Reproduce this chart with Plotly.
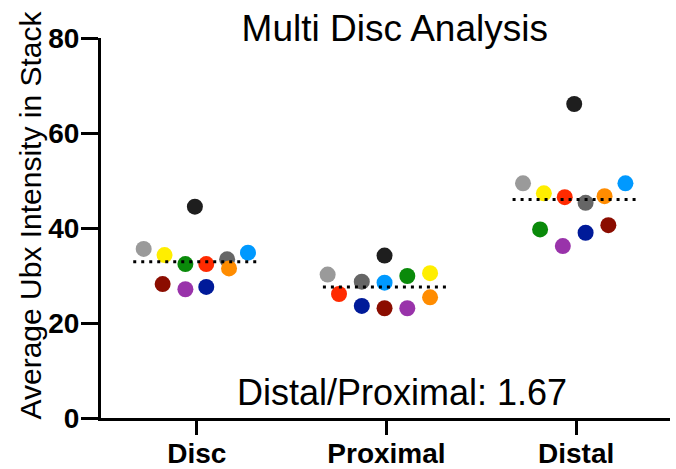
import plotly.graph_objects as go

groups = ["Disc", "Proximal", "Distal"]
disc_colors = ["#9a9a9a", "#1e1e1e", "#ffee00", "#0a8a0a", "#ff2a00", "#666666",
               "#ff8c00", "#0099ff", "#8b0d00", "#9933aa", "#001a99"]

disc_vals = [35.6, 44.5, 34.3, 32.4, 32.4, 33.4, 31.5, 34.8, 28.2, 27.1, 27.6]
proximal_vals = [30.2, 34.2, 30.5, 29.9, 26.1, 28.7, 25.4, 28.5, 23.1, 23.1, 23.6]
distal_vals = [49.4, 66.1, 47.3, 39.7, 46.5, 45.3, 46.7, 49.4, 40.6, 36.2, 39.0]

# horizontal scatter jitter (category units)
disc_jit = [-0.28, -0.01, -0.17, -0.06, 0.05, 0.16, 0.17, 0.27, -0.18, -0.06, 0.05]
proximal_jit = [-0.31, -0.01, 0.23, 0.11, -0.25, -0.13, 0.23, -0.01, -0.01, 0.11, -0.13]
distal_jit = [-0.28, -0.01, -0.17, -0.19, -0.06, 0.05, 0.15, 0.26, 0.17, -0.07, 0.05]

y_ticks = [0, 20, 40, 60, 80]

vals = [disc_vals, proximal_vals, distal_vals]
jits = [disc_jit, proximal_jit, distal_jit]

fig = go.Figure()
for i, col in enumerate(disc_colors):
    xs = [g + jits[g][i] for g in range(3)]
    ys = [vals[g][i] for g in range(3)]
    fig.add_trace(go.Scatter(x=xs, y=ys, mode="markers",
                             marker=dict(size=16, color=col, line=dict(width=0)),
                             showlegend=False, hoverinfo="y"))

means = [sum(v) / len(v) for v in vals]
for g, m in enumerate(means):
    fig.add_trace(go.Scatter(x=[g - 0.335, g + 0.335], y=[m, m], mode="lines",
                             line=dict(color="black", width=3, dash="3px,5px"),
                             showlegend=False, hoverinfo="skip"))

FONT = "Liberation Sans, Arial, Helvetica, sans-serif"

fig.update_layout(
    width=676, height=469,
    margin=dict(l=101, r=6, t=38, b=51),
    paper_bgcolor="white", plot_bgcolor="white",
    font=dict(family=FONT, color="black"),
    title=dict(text="Multi Disc Analysis", x=0.584, xanchor="center",
               y=0.94, yanchor="middle", xref="container", yref="container",
               font=dict(size=37, family=FONT, color="black")),
    xaxis=dict(range=[-0.505, 2.495], tickvals=[0, 1, 2], ticktext=groups,
               showline=True, linecolor="black", linewidth=3, automargin=False,
               ticks="outside", ticklen=14, tickwidth=3, tickcolor="black",
               ticklabelstandoff=-6,
               tickfont=dict(size=28, family=FONT, weight="bold"),
               showgrid=False, zeroline=False),
    yaxis=dict(range=[0, 80], tickvals=y_ticks, automargin=False,
               showline=True, linecolor="black", linewidth=3,
               ticks="outside", ticklen=17, tickwidth=3, tickcolor="black",
               ticklabelstandoff=-4,
               tickfont=dict(size=28, family=FONT, weight="bold"),
               showgrid=False, zeroline=False),
    annotations=[
        dict(text="Distal/Proximal: 1.67", x=(402 - 101) / 569,
             xref="paper", y=0.068, yref="paper",
             xanchor="center", yanchor="middle",
             showarrow=False, font=dict(size=36, family=FONT, color="black")),
        dict(text="Average Ubx Intensity in Stack", textangle=-90,
             x=(30 - 101) / 569, xref="paper", y=(418 - 215.5) / 380, yref="paper",
             xanchor="center", yanchor="middle", showarrow=False,
             font=dict(size=30, family=FONT, color="black")),
    ],
)

fig.write_html("out.html")
